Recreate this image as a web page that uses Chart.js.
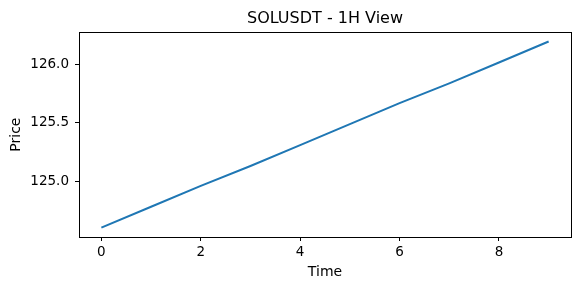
<!DOCTYPE html>
<html>
<head>
<meta charset="utf-8">
<script src="https://cdn.jsdelivr.net/npm/chart.js@4/dist/chart.umd.min.js"></script>
<style>
  html, body { margin: 0; padding: 0; background: #ffffff; }
  #wrap { width: 581px; height: 290px; position: relative; }
</style>
</head>
<body>
<div id="wrap"><canvas id="grafico"></canvas></div>
<script>
// Datos
const tiempos = [0, 1, 2, 3, 4, 5, 6, 7, 8, 9];
const precios = [124.60, 124.78, 124.96, 125.13, 125.31, 125.49, 125.67, 125.84, 126.02, 126.20];
const ticksX = [0, 2, 4, 6, 8];
const ticksY = [125.0, 125.5, 126.0];

const puntos = tiempos.map((t, i) => ({ x: t, y: precios[i] }));

// Marco negro alrededor del area del grafico (estilo matplotlib)
const marco = {
    id: 'marco',
    afterDatasetsDraw(chart) {
        const a = chart.chartArea;
        const ctx = chart.ctx;
        ctx.save();
        ctx.strokeStyle = '#000000';
        ctx.lineWidth = 1;
        ctx.strokeRect(Math.round(a.left) + 0.5, Math.round(a.top) + 0.5,
            Math.round(a.right - a.left), Math.round(a.bottom - a.top));
        ctx.restore();
    }
};

const fuente = "'DejaVu Sans', sans-serif";

new Chart(document.getElementById('grafico').getContext('2d'), {
    type: 'scatter',
    data: {
        datasets: [{
            data: puntos,
            borderColor: '#1f77b4',
            borderWidth: 2,
            pointRadius: 0,
            showLine: true,
            fill: false
        }]
    },
    options: {
        responsive: true,
        maintainAspectRatio: false,
        animation: false,
        layout: { padding: { left: 0, right: 10, top: 0, bottom: 0 } },
        scales: {
            x: {
                type: 'linear',
                min: -0.45,
                max: 9.45,
                afterBuildTicks: s => { s.ticks = ticksX.map(v => ({ value: v })); },
                afterFit: s => { s.height = 53; },
                border: { display: false },
                grid: { drawOnChartArea: false, drawTicks: true, tickLength: 4, color: '#000000' },
                ticks: {
                    color: '#000000',
                    padding: 3,
                    maxRotation: 0,
                    font: { family: fuente, size: 13.5 }
                },
                title: {
                    display: true,
                    text: 'Time',
                    color: '#000000',
                    font: { family: fuente, size: 14 },
                    padding: { top: 0, bottom: 9.6 }
                }
            },
            y: {
                type: 'linear',
                min: 124.52,
                max: 126.28,
                afterBuildTicks: s => { s.ticks = ticksY.map(v => ({ value: v })); },
                afterFit: s => { s.width = 79; },
                border: { display: false },
                grid: { drawOnChartArea: false, drawTicks: true, tickLength: 4, color: '#000000' },
                ticks: {
                    color: '#000000',
                    padding: 6,
                    font: { family: fuente, size: 13.5 },
                    callback: v => Number(v).toFixed(1)
                },
                title: {
                    display: true,
                    text: 'Price',
                    color: '#000000',
                    font: { family: fuente, size: 14 },
                    padding: { top: 8, bottom: 0 }
                }
            }
        },
        plugins: {
            legend: { display: false },
            tooltip: { enabled: false },
            title: {
                display: true,
                text: 'SOLUSDT - 1H View',
                color: '#000000',
                fullSize: false,
                font: { family: fuente, size: 16, weight: 'normal' },
                padding: { top: 9, bottom: 4 }
            }
        }
    },
    plugins: [marco]
});
</script>
</body>
</html>
